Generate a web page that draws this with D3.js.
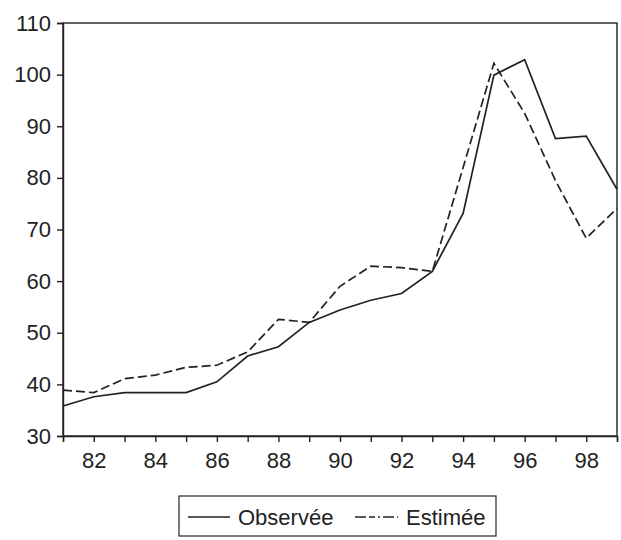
<!DOCTYPE html>
<meta charset="utf-8">
<style>
  body { margin: 0; background: #fff; }
  svg { font-family: "Liberation Sans", Arial, sans-serif; }
  .axis text { font-size: 22px; fill: #222; }
  .axis .domain, .axis .tick line { stroke: #222; stroke-width: 1.4; }
</style>
<body>
<script src="https://d3js.org/d3.v7.min.js"></script>
<script>

  var years = d3.range(1981, 2000);
  var observee = [35.8, 37.6, 38.4, 38.4, 38.4, 40.5, 45.5, 47.3, 52.0, 54.4, 56.3, 57.6, 61.9, 73.1, 99.9, 102.9, 87.6, 88.1, 77.8];
  var estimee  = [38.9, 38.4, 41.1, 41.8, 43.3, 43.7, 46.3, 52.6, 52.0, 59.0, 62.9, 62.6, 61.9, 82.0, 102.2, 92.5, 79.5, 68.3, 74.1];
  var yTicks = [30, 40, 50, 60, 70, 80, 90, 100, 110];
  var seriesNames = ["Observée", "Estimée"];

  var margin = { top: 23, right: 4, bottom: 104, left: 63 },
    width = 621 - margin.left - margin.right,
    height = 540 - margin.top - margin.bottom;

  var svg = d3.select("body").append("svg")
    .attr("width", 621)
    .attr("height", 540);

  var g = svg.append("g")
    .attr("transform", "translate(" + margin.left + "," + margin.top + ")");

  var x = d3.scaleLinear().domain([1981, 1999]).range([0, width]);
  var y = d3.scaleLinear().domain([30, 110]).range([height, 0]);

  // frame
  g.append("rect")
    .attr("width", width)
    .attr("height", height)
    .attr("fill", "none")
    .attr("stroke", "#222")
    .attr("stroke-width", 1.4);

  g.append("g")
    .attr("class", "axis")
    .call(d3.axisLeft(y).tickValues(yTicks).tickSize(6).tickPadding(6));

  g.append("g")
    .attr("class", "axis")
    .attr("transform", "translate(0," + height + ")")
    .call(d3.axisBottom(x)
      .tickValues(years)
      .tickSize(6)
      .tickPadding(10)
      .tickFormat(function (d) { return d % 2 === 0 ? String(d).slice(2) : ""; }));

  var line = d3.line()
    .x(function (d, i) { return x(years[i]); })
    .y(function (d) { return y(d); });

  g.append("path")
    .datum(observee)
    .attr("fill", "none")
    .attr("stroke", "#222")
    .attr("stroke-width", 1.7)
    .attr("d", line);

  g.append("path")
    .datum(estimee)
    .attr("fill", "none")
    .attr("stroke", "#222")
    .attr("stroke-width", 1.7)
    .attr("stroke-dasharray", "9,4")
    .attr("d", line);

  // legend
  var legend = svg.append("g").attr("transform", "translate(179,496)");
  legend.append("rect")
    .attr("width", 317)
    .attr("height", 40)
    .attr("fill", "none")
    .attr("stroke", "#222")
    .attr("stroke-width", 1.2);

  legend.append("line")
    .attr("x1", 9).attr("x2", 51).attr("y1", 21).attr("y2", 21)
    .attr("stroke", "#222").attr("stroke-width", 1.5);
  legend.append("text")
    .attr("x", 59).attr("y", 21).attr("dy", "0.35em")
    .style("font-size", "22px").attr("fill", "#222")
    .text(seriesNames[0]);

  legend.append("line")
    .attr("x1", 176).attr("x2", 219).attr("y1", 21).attr("y2", 21)
    .attr("stroke", "#222").attr("stroke-width", 1.5)
    .attr("stroke-dasharray", "11,3,6,3,2,3");
  legend.append("text")
    .attr("x", 227).attr("y", 21).attr("dy", "0.35em")
    .style("font-size", "22px").attr("fill", "#222")
    .text(seriesNames[1]);

</script>
